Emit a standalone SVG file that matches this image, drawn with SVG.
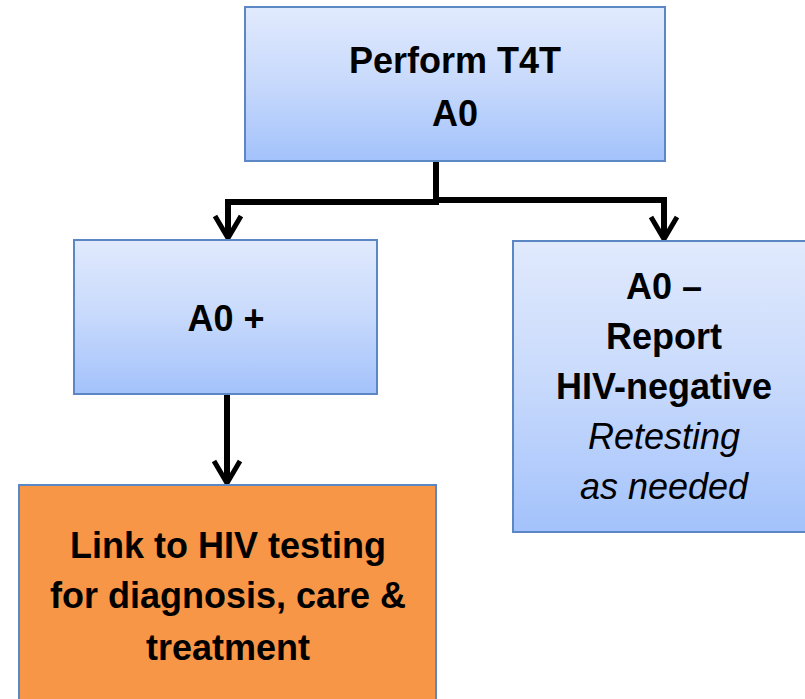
<svg xmlns="http://www.w3.org/2000/svg" width="805" height="699" viewBox="0 0 805 699">
<defs>
<linearGradient id="blue" x1="0" y1="0" x2="0" y2="1">
<stop offset="0" stop-color="#e1eafd"/>
<stop offset="0.5" stop-color="#c7d9fc"/>
<stop offset="1" stop-color="#a3c2fb"/>
</linearGradient>
<marker id="arr" markerUnits="userSpaceOnUse" markerWidth="60" markerHeight="60" refX="0" refY="0" orient="auto" overflow="visible">
<path d="M-22,-13 L0,0 L-22,13" fill="none" stroke="#000" stroke-width="5" stroke-linejoin="miter"/>
</marker>
<style>
.box{fill:url(#blue);stroke:#5b88c4;stroke-width:2}
.orange{fill:#f79646;stroke:#5b88c4;stroke-width:2}
.t{font-family:"Liberation Sans",Arial,sans-serif;font-size:36px;font-weight:bold;fill:#000;text-anchor:middle}
.i{font-weight:normal;font-style:italic}
.c{fill:none;stroke:#000;stroke-width:6}
</style>
</defs>
<g id="connectors">
<path class="c" d="M436,161 V202 H228 V238" marker-end="url(#arr)"/>
<path class="c" d="M436,200 H664 V239" marker-end="url(#arr)"/>
<path class="c" d="M227,394 V483" marker-end="url(#arr)"/>
</g>
<g id="n1">
<rect class="box" x="245" y="7" width="420" height="154"/>
<text class="t" x="455" y="73">Perform T4T</text>
<text class="t" x="455" y="126">A0</text>
</g>
<g id="n2">
<rect class="box" x="74" y="240" width="303" height="154"/>
<text class="t" x="226" y="331">A0 +</text>
</g>
<g id="n3">
<rect class="box" x="513" y="241" width="300" height="291"/>
<text class="t" x="664" y="299">A0 –</text>
<text class="t" x="664" y="349">Report</text>
<text class="t" x="664" y="399">HIV-negative</text>
<text class="t i" x="664" y="449">Retesting</text>
<text class="t i" x="664" y="499">as needed</text>
</g>
<g id="n4">
<rect class="orange" x="19" y="485" width="417" height="230"/>
<text class="t" x="228" y="558">Link to HIV testing</text>
<text class="t" x="228" y="608">for diagnosis, care &amp;</text>
<text class="t" x="228" y="660">treatment</text>
</g>
</svg>
